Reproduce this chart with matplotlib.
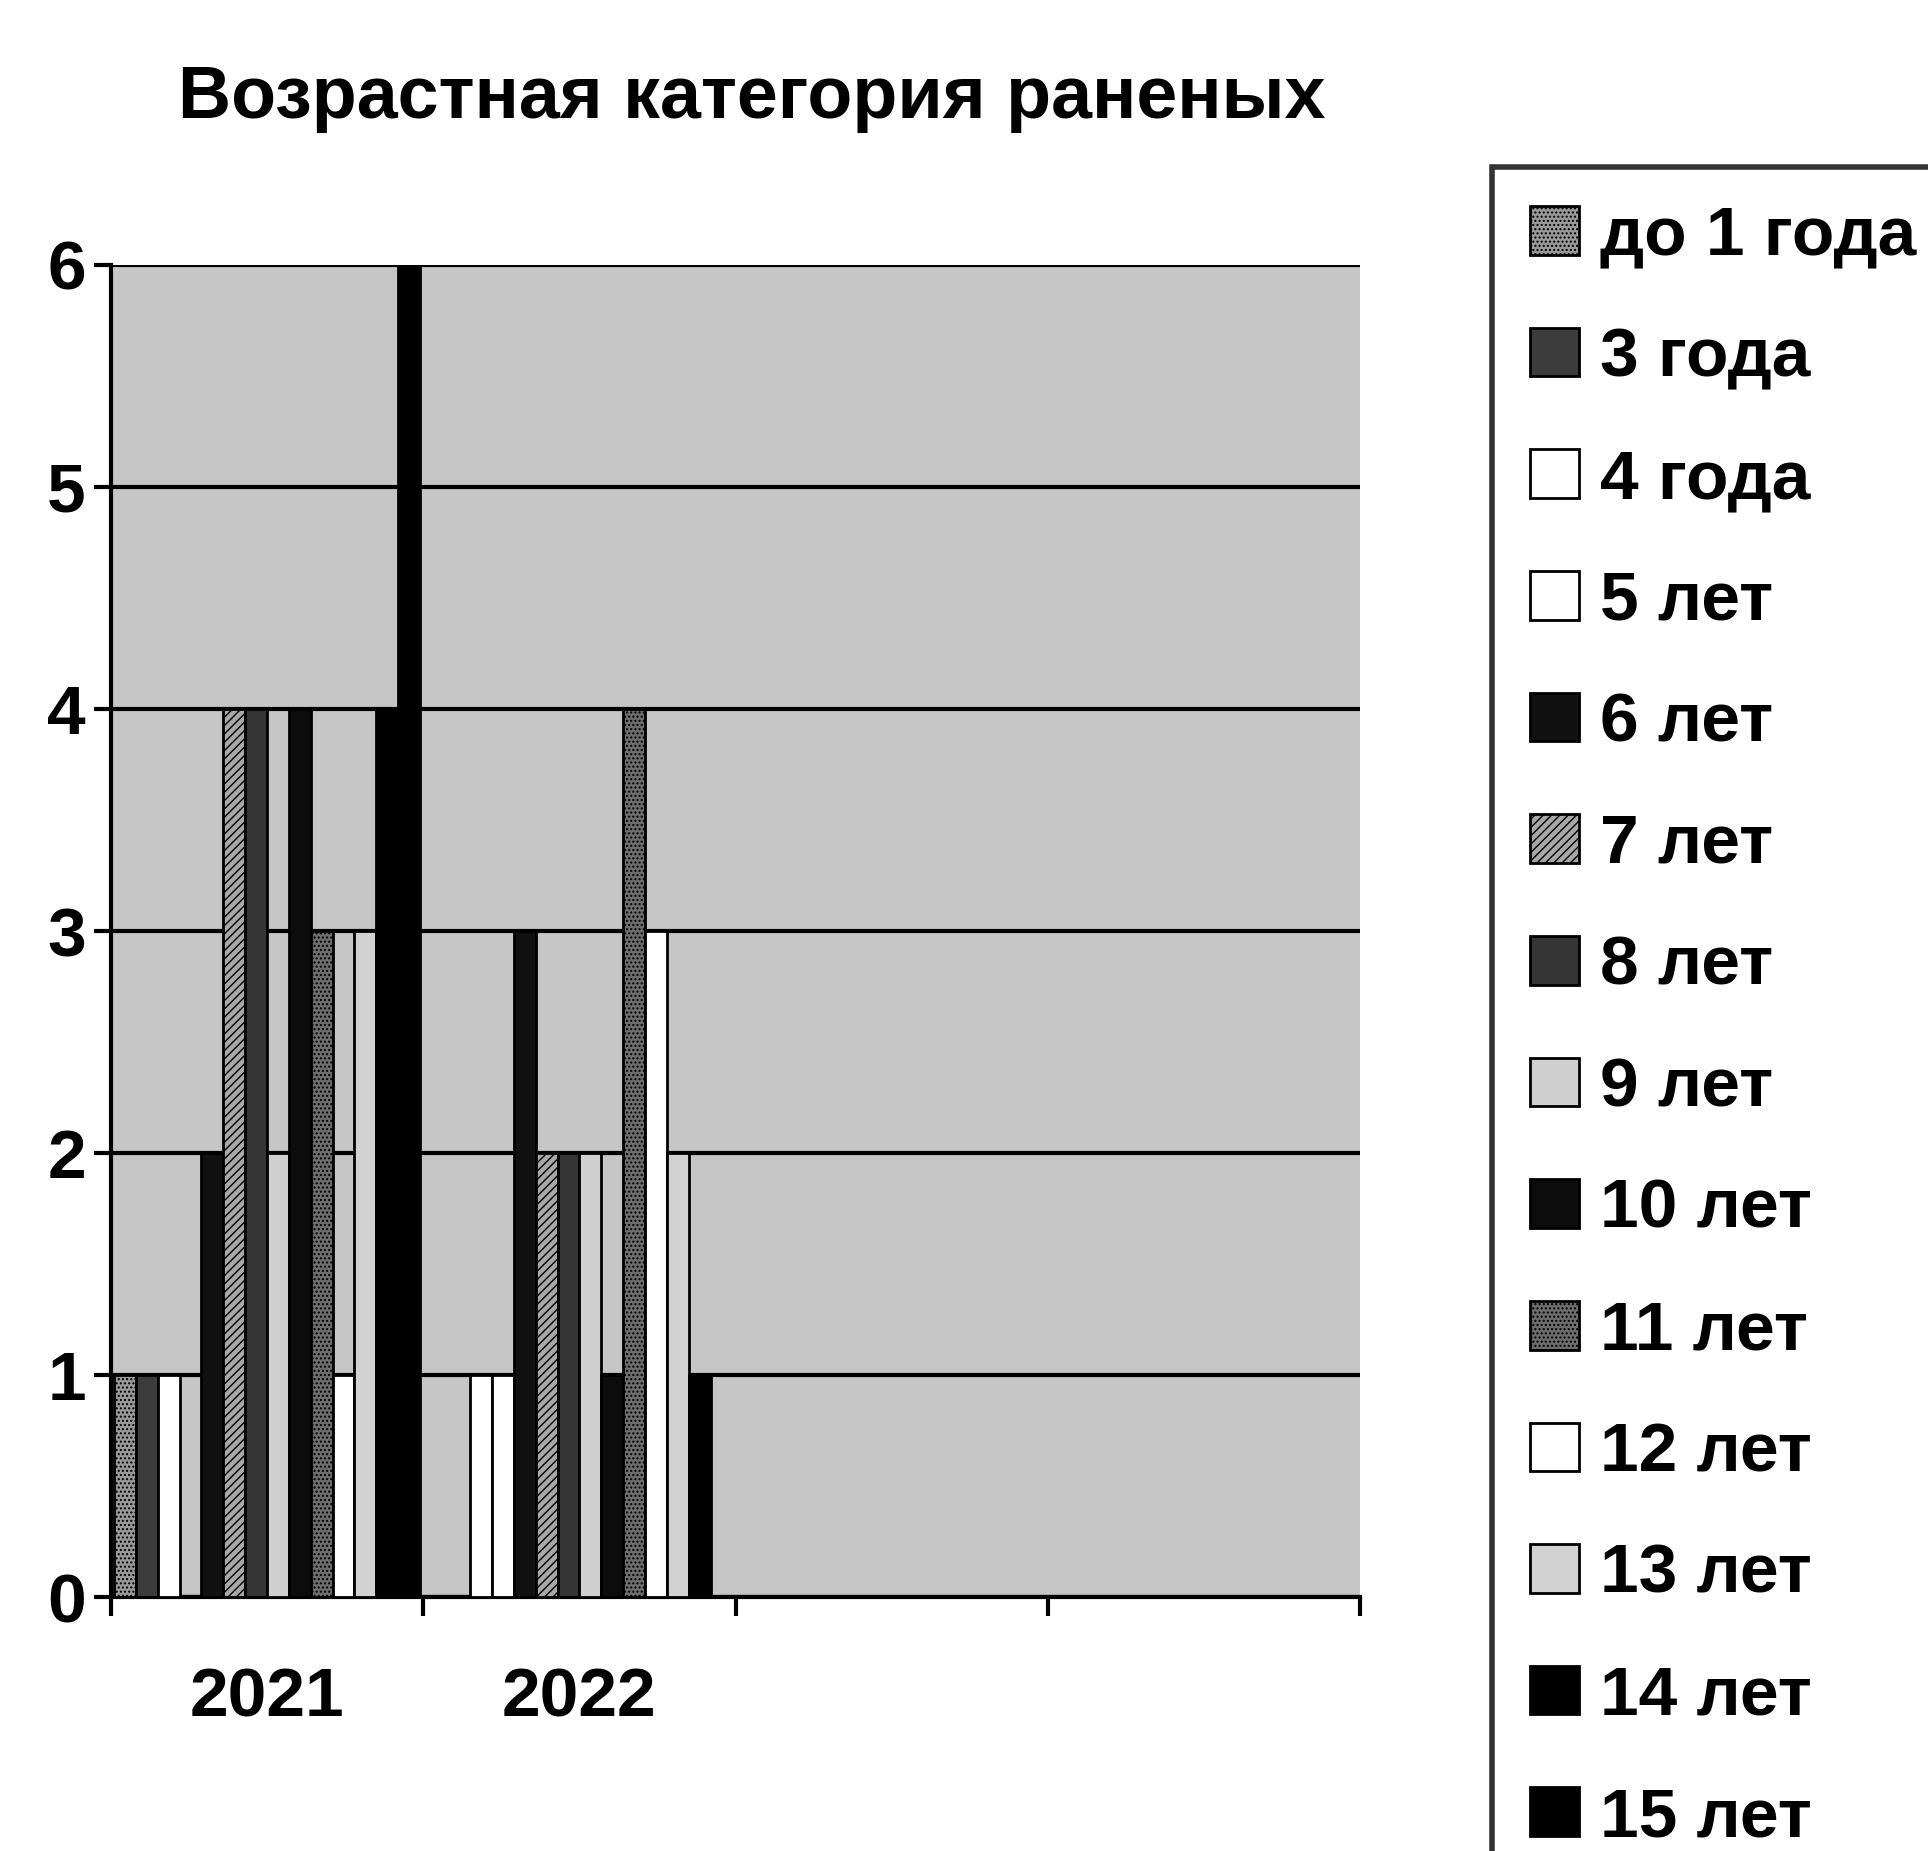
import numpy as np
import matplotlib.pyplot as plt

plt.rcParams['font.family'] = ['Liberation Sans', 'DejaVu Sans']

# categories (4 slots on the axis, only two labelled)
years = ['2021', '2022', '', '']

series = ['до 1 года', '3 года', '4 года', '5 лет', '6 лет', '7 лет', '8 лет',
          '9 лет', '10 лет', '11 лет', '12 лет', '13 лет', '14 лет', '15 лет']

# values, per series: [2021, 2022, -, -]
v2021 = [1, 1, 1, 0, 2, 4, 4, 2, 4, 3, 1, 3, 4, 6]
v2022 = [0, 0, 1, 1, 3, 2, 2, 2, 1, 4, 3, 2, 1, 0]

colors = ['#9a9a9a', '#3c3c3c', '#ffffff', '#ffffff', '#111111', '#a8a8a8', '#353535',
          '#cfcfcf', '#0c0c0c', '#6e6e6e', '#ffffff', '#d2d2d2', '#000000', '#000000']
hatches = ['....', None, None, None, None, '////', None,
           None, None, '....', None, None, None, None]

fig = plt.figure(figsize=(19.28, 18.51), dpi=100)
ax = fig.add_axes([0.0575, 0.137, 0.648, 0.72])
ax.set_facecolor('#c6c6c6')

n = len(series)
group_w = 0.98
bw = group_w / n
x = np.arange(len(years))

for i, name in enumerate(series):
    vals = [v2021[i], v2022[i], 0, 0]
    ax.bar(x - group_w / 2 + bw * (i + 0.5), vals, width=bw, color=colors[i],
           edgecolor='black', linewidth=2, hatch=hatches[i], label=name, zorder=3)

ax.set_xlim(-0.5, 3.5)
ax.set_ylim(0, 6)
ax.set_yticks(range(0, 7))
ax.yaxis.grid(True, color='black', linewidth=3, zorder=1)
ax.set_axisbelow(True)

ax.set_xticks([-0.5, 0.5, 1.5, 2.5, 3.5])
ax.set_xticklabels([])
ax.set_xticks(x, minor=True)
ax.set_xticklabels(years, minor=True)
ax.tick_params(axis='x', which='major', length=14, width=3, direction='out')
ax.tick_params(axis='x', which='minor', length=0, pad=50, labelsize=50)
ax.tick_params(axis='y', length=12, width=3, labelsize=50, pad=6)
for lab in ax.get_yticklabels() + ax.get_xticklabels(minor=True):
    lab.set_fontweight('bold')

for s in ['top', 'right']:
    ax.spines[s].set_visible(False)
ax.spines['left'].set_linewidth(3)
ax.spines['bottom'].set_linewidth(3)

fig.text(0.39, 0.947, 'Возрастная категория раненых', ha='center', va='center',
         fontsize=53, fontweight='bold')

leg = fig.legend(loc='upper left', bbox_to_anchor=(0.774, 0.91), frameon=True,
                 fancybox=False, edgecolor='black', prop={'size': 50, 'weight': 'bold'},
                 handlelength=0.7, handleheight=0.7, handletextpad=0.3,
                 labelspacing=0.83, borderpad=0.55, borderaxespad=0)
leg.get_frame().set_linewidth(4)

fig.savefig('out.png', dpi=100)
